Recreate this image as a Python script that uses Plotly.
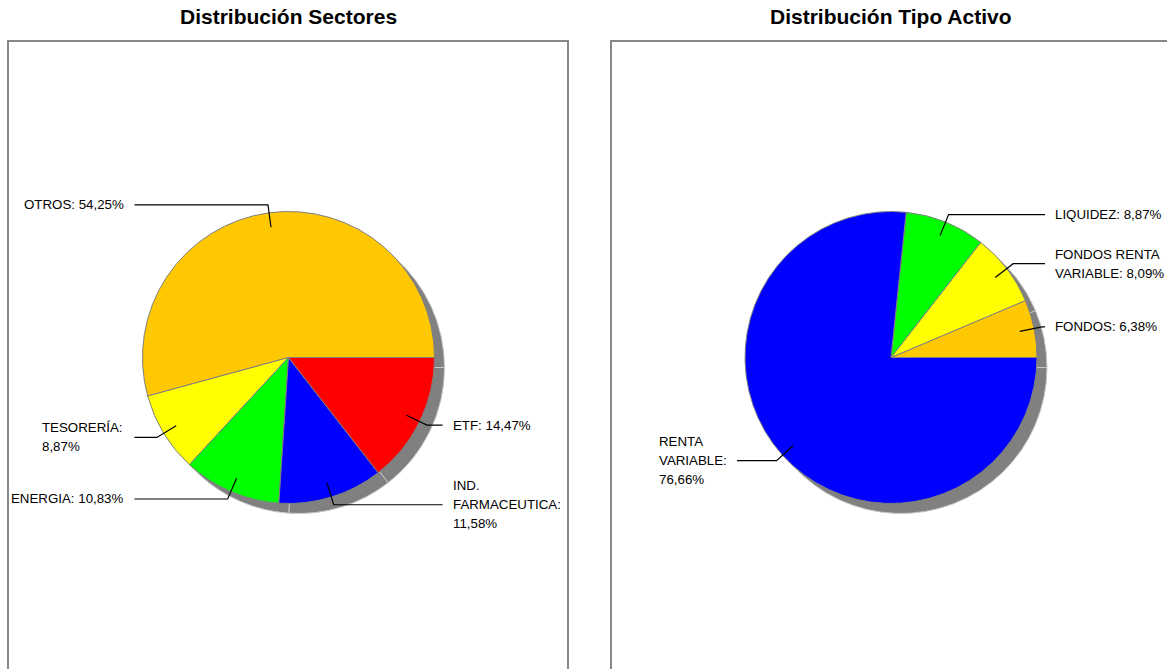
import math
import plotly.graph_objects as go

# ---------------- data ----------------
sector_labels = ["OTROS", "TESORERÍA", "ENERGIA", "IND. FARMACEUTICA", "ETF"]
sector_values = [54.25, 8.87, 10.83, 11.58, 14.47]
sector_text = [["OTROS: 54,25%"], ["TESORERÍA:", "8,87%"], ["ENERGIA: 10,83%"],
               ["IND.", "FARMACEUTICA:", "11,58%"], ["ETF: 14,47%"]]
sector_colors = ["#FFC800", "#FFFF00", "#00FF00", "#0000FF", "#FF0000"]

asset_labels = ["FONDOS", "FONDOS RENTA VARIABLE", "LIQUIDEZ", "RENTA VARIABLE"]
asset_values = [6.38, 8.09, 8.87, 76.66]
asset_text = [["FONDOS: 6,38%"], ["FONDOS RENTA", "VARIABLE: 8,09%"], ["LIQUIDEZ: 8,87%"],
              ["RENTA", "VARIABLE:", "76,66%"]]
asset_colors = ["#FFC800", "#FFFF00", "#00FF00", "#0000FF"]

titles = ["Distribución Sectores", "Distribución Tipo Activo"]

# ---------------- layout constants (pixels) ----------------
W, H = 1167, 669
R = 146
SHADOW = 10
centers = [(288.5, 357.5), (891.0, 357.5)]
panels = [(8, 41, 568, 680), (611, 41, 1180, 680)]
multiline_left_x = [40, 657]
FONT = "Liberation Sans, Arial, sans-serif"
LINE_H = 19


def px(x):
    return x / W


def py(y):
    return 1 - y / H


fig = go.Figure()
shapes = []
annotations = []

datasets = [
    (sector_labels, sector_values, sector_text, sector_colors),
    (asset_labels, asset_values, asset_text, asset_colors),
]

for i, (labels, values, texts, colors) in enumerate(datasets):
    cx, cy = centers[i]
    total = sum(values)
    # plotly (counterclockwise): first slice spans clockwise from `rotation`;
    # choose rotation so the first slice starts at 3 o'clock going counterclockwise
    rot = 90 - 360 * values[0] / total
    # panel border
    x0, y0, x1, y1 = panels[i]
    shapes.append(dict(type="rect", xref="paper", yref="paper",
                       x0=px(x0), x1=px(x1), y0=py(y1), y1=py(y0),
                       line=dict(color="#888888", width=2), layer="below"))
    # title
    annotations.append(dict(text="<b>%s</b>" % titles[i], x=px(cx), y=py(16),
                            xref="paper", yref="paper", showarrow=False,
                            xanchor="center", yanchor="middle",
                            font=dict(family=FONT, size=21, color="black")))
    # shadow pie
    sx, sy = cx + SHADOW, cy + SHADOW
    fig.add_trace(go.Pie(
        labels=labels, values=values, sort=False, direction="counterclockwise",
        rotation=rot, textinfo="none", hoverinfo="skip", showlegend=False,
        marker=dict(colors=["#808080"] * len(values),
                    line=dict(color="#C8C8C8", width=1)),
        domain=dict(x=[px(sx - R), px(sx + R)], y=[py(sy + R), py(sy - R)]),
    ))
    # main pie
    fig.add_trace(go.Pie(
        labels=labels, values=values, sort=False, direction="counterclockwise",
        rotation=rot, textinfo="none", showlegend=False,
        marker=dict(colors=colors, line=dict(color="#808080", width=1)),
        domain=dict(x=[px(cx - R), px(cx + R)], y=[py(cy + R), py(cy - R)]),
    ))
    # leader lines and labels
    cum = 0.0
    for v, lines in zip(values, texts):
        mid = (cum + v / 2) / total * 2 * math.pi
        cum += v
        ca, sa = math.cos(mid), math.sin(mid)
        xs, ys = cx + 0.9 * R * ca, cy - 0.9 * R * sa
        xe, ye = cx + 1.055 * R * ca, cy - 1.055 * R * sa
        right = ca >= 0
        xc = cx + 1.055 * R * (1 if right else -1)
        path = "M %f %f L %f %f L %f %f" % (px(xs), py(ys), px(xe), py(ye), px(xc), py(ye))
        shapes.append(dict(type="path", xref="paper", yref="paper", path=path,
                           line=dict(color="black", width=1.2)))
        n = len(lines)
        for k, line in enumerate(lines):
            ly = ye + (k - (n - 1) / 2) * LINE_H
            if right:
                lx, anchor = xc + 8, "left"
            elif n == 1:
                lx, anchor = xc - 8, "right"
            else:
                lx, anchor = multiline_left_x[i], "left"
            annotations.append(dict(text=line, x=px(lx), y=py(ly), xref="paper",
                                    yref="paper", showarrow=False, xanchor=anchor,
                                    yanchor="middle",
                                    font=dict(family=FONT, size=13.3, color="black")))

fig.update_layout(
    width=W, height=H, autosize=False,
    margin=dict(l=0, r=0, t=0, b=0),
    paper_bgcolor="white", plot_bgcolor="white",
    shapes=shapes, annotations=annotations,
)

fig.write_html("out.html")
